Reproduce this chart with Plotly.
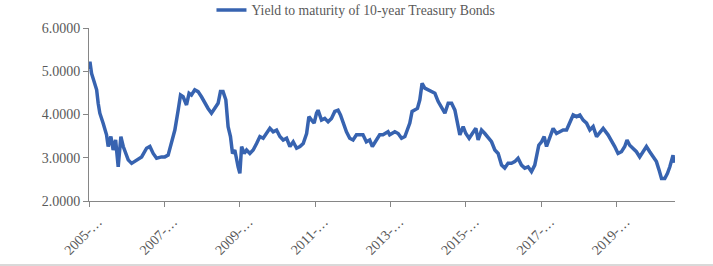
import plotly.graph_objects as go

dates = [
    "2005-01-03", "2005-01-10", "2005-01-26", "2005-02-21", "2005-03-16", "2005-03-31", "2005-04-16",
    "2005-05-18", "2005-06-20", "2005-07-06", "2005-08-01", "2005-08-23", "2005-09-16", "2005-10-11",
    "2005-11-06", "2005-11-29", "2005-12-22", "2006-01-16", "2006-02-18", "2006-04-08", "2006-05-26",
    "2006-07-13", "2006-08-14", "2006-09-15", "2006-10-18", "2006-12-05", "2007-01-06", "2007-02-07",
    "2007-03-12", "2007-04-13", "2007-05-15", "2007-06-07", "2007-07-02", "2007-08-04", "2007-08-29",
    "2007-09-21", "2007-10-23", "2007-11-24", "2007-12-27", "2008-01-28", "2008-02-29", "2008-04-02",
    "2008-05-04", "2008-06-05", "2008-06-28", "2008-07-23", "2008-08-19", "2008-09-10", "2008-10-03",
    "2008-10-23", "2008-11-14", "2008-12-06", "2008-12-16", "2009-01-02", "2009-01-19", "2009-02-13",
    "2009-03-08", "2009-04-09", "2009-05-11", "2009-06-13", "2009-07-15", "2009-08-16", "2009-09-18",
    "2009-10-20", "2009-11-21", "2009-12-24", "2010-01-25", "2010-02-26", "2010-03-31", "2010-05-02",
    "2010-06-03", "2010-07-06", "2010-08-07", "2010-09-08", "2010-10-11", "2010-11-02", "2010-11-28",
    "2010-12-23", "2011-01-15", "2011-01-30", "2011-03-04", "2011-04-05", "2011-05-07", "2011-06-09",
    "2011-07-11", "2011-08-12", "2011-09-04", "2011-09-29", "2011-11-01", "2011-12-03", "2012-01-04",
    "2012-02-06", "2012-03-08", "2012-04-09", "2012-05-12", "2012-06-13", "2012-07-09", "2012-08-10",
    "2012-09-18", "2012-10-20", "2012-12-08", "2012-12-24", "2013-02-12", "2013-03-16", "2013-04-18",
    "2013-05-20", "2013-06-15", "2013-07-07", "2013-07-29", "2013-08-24", "2013-09-19", "2013-10-12",
    "2013-11-03", "2013-11-29", "2014-01-01", "2014-02-03", "2014-03-07", "2014-04-08", "2014-05-11",
    "2014-06-12", "2014-07-14", "2014-08-16", "2014-09-17", "2014-10-13", "2014-11-04", "2014-12-06",
    "2015-01-01", "2015-02-02", "2015-03-07", "2015-04-08", "2015-04-30", "2015-06-02", "2015-07-04",
    "2015-08-05", "2015-09-07", "2015-10-09", "2015-11-10", "2015-12-13", "2016-01-13", "2016-02-14",
    "2016-03-18", "2016-04-19", "2016-05-21", "2016-06-23", "2016-07-25", "2016-08-26", "2016-09-28",
    "2016-10-30", "2016-11-15", "2016-12-08", "2017-01-04", "2017-01-29", "2017-02-21", "2017-03-25",
    "2017-04-26", "2017-05-29", "2017-06-30", "2017-08-01", "2017-09-03", "2017-10-05", "2017-11-06",
    "2017-12-09", "2018-01-10", "2018-02-11", "2018-03-16", "2018-04-17", "2018-05-19", "2018-06-21",
    "2018-07-23", "2018-08-24", "2018-10-10", "2018-11-12", "2018-12-14", "2019-01-15", "2019-02-17",
    "2019-03-21", "2019-04-12", "2019-05-08", "2019-06-09", "2019-07-12", "2019-08-13", "2019-09-14",
    "2019-10-17", "2019-11-18", "2019-12-20", "2020-01-22", "2020-02-16", "2020-03-11", "2020-04-12",
    "2020-05-08", "2020-05-31", "2020-06-16", "2020-07-01", "2020-07-08",
]
yields = [
    5.05, 5.22, 4.95, 4.76, 4.57, 4.26, 4.03,
    3.80, 3.53, 3.26, 3.49, 3.18, 3.41, 2.79,
    3.49, 3.26, 3.10, 2.95, 2.87, 2.95, 3.02,
    3.22, 3.26, 3.10, 2.99, 3.02, 3.02, 3.06,
    3.33, 3.64, 4.10, 4.45, 4.41, 4.22, 4.49,
    4.45, 4.57, 4.53, 4.41, 4.26, 4.14, 4.03,
    4.14, 4.26, 4.53, 4.53, 4.34, 3.72, 3.49,
    3.10, 3.18, 2.87, 2.79, 2.64, 3.26, 3.10,
    3.18, 3.10, 3.18, 3.33, 3.49, 3.45, 3.56,
    3.68, 3.60, 3.64, 3.49, 3.41, 3.45, 3.26,
    3.37, 3.22, 3.26, 3.33, 3.56, 3.95, 3.87,
    3.80, 4.03, 4.10, 3.87, 3.91, 3.83, 3.91,
    4.07, 4.10, 3.99, 3.80, 3.60, 3.45, 3.41,
    3.53, 3.53, 3.53, 3.37, 3.41, 3.26, 3.37,
    3.53, 3.53, 3.60, 3.53, 3.60, 3.56, 3.45,
    3.49, 3.64, 3.80, 4.07, 4.10, 4.14, 4.34,
    4.72, 4.61, 4.57, 4.53, 4.49, 4.30, 4.14,
    4.03, 4.26, 4.26, 4.10, 3.80, 3.53, 3.72,
    3.56, 3.45, 3.56, 3.68, 3.41, 3.64, 3.56,
    3.45, 3.37, 3.18, 3.10, 2.83, 2.76, 2.87,
    2.87, 2.91, 2.99, 2.83, 2.76, 2.79, 2.68,
    2.83, 3.02, 3.29, 3.37, 3.49, 3.26, 3.49,
    3.68, 3.56, 3.60, 3.64, 3.64, 3.83, 3.99,
    3.95, 3.99, 3.87, 3.80, 3.64, 3.72, 3.49,
    3.60, 3.68, 3.53, 3.41, 3.26, 3.10, 3.14,
    3.26, 3.41, 3.29, 3.22, 3.14, 3.02, 3.14,
    3.26, 3.14, 3.02, 2.91, 2.72, 2.52, 2.52,
    2.64, 2.79, 2.95, 3.06, 2.88,
]
tick_dates = ["2005-01-01", "2007-01-01", "2009-01-01", "2011-01-01",
              "2013-01-01", "2015-01-01", "2017-01-01", "2019-01-01"]
tick_text = ["2005-…", "2007-…", "2009-…", "2011-…", "2013-…", "2015-…", "2017-…", "2019-…"]
series_name = "Yield to maturity of 10-year Treasury Bonds"

font_family = "Times New Roman"
gray_text = "#595959"
axis_gray = "#868686"

fig = go.Figure()
fig.add_trace(go.Scatter(
    x=dates, y=yields, mode="lines", name=series_name,
    line=dict(color="#3763b0", width=3.5),
))

fig.update_layout(
    width=713, height=266,
    margin=dict(l=89, r=38, t=28, b=65, autoexpand=False),
    paper_bgcolor="white", plot_bgcolor="white",
    font=dict(family=font_family, size=14, color=gray_text),
    showlegend=True,
    legend=dict(orientation="h", x=0.209, xanchor="left", y=1.104, yanchor="middle",
                font=dict(family=font_family, size=13.7, color=gray_text),
                bgcolor="rgba(0,0,0,0)"),
    xaxis=dict(
        type="date", range=["2005-01-01", "2020-07-20"],
        tickvals=tick_dates, ticktext=tick_text, tickangle=-45,
        showgrid=False, zeroline=False,
        showline=True, linecolor=axis_gray, linewidth=1,
        ticks="outside", ticklen=5, tickcolor=axis_gray,
        ticklabelshift=9, ticklabelstandoff=1,
        tickfont=dict(family=font_family, size=14, color=gray_text),
    ),
    yaxis=dict(
        range=[2, 6], dtick=1, tick0=2, tickformat=".4f",
        showgrid=False, zeroline=False,
        showline=True, linecolor=axis_gray, linewidth=1,
        ticks="outside", ticklen=5, tickcolor=axis_gray,
        tickfont=dict(family=font_family, size=14, color=gray_text),
    ),
    shapes=[dict(type="line", xref="paper", yref="paper",
                 x0=-89 / 586, x1=624 / 586, y0=-64 / 173, y1=-64 / 173,
                 line=dict(color="#d9d9d9", width=2))],
)

fig.write_html("out.html")
